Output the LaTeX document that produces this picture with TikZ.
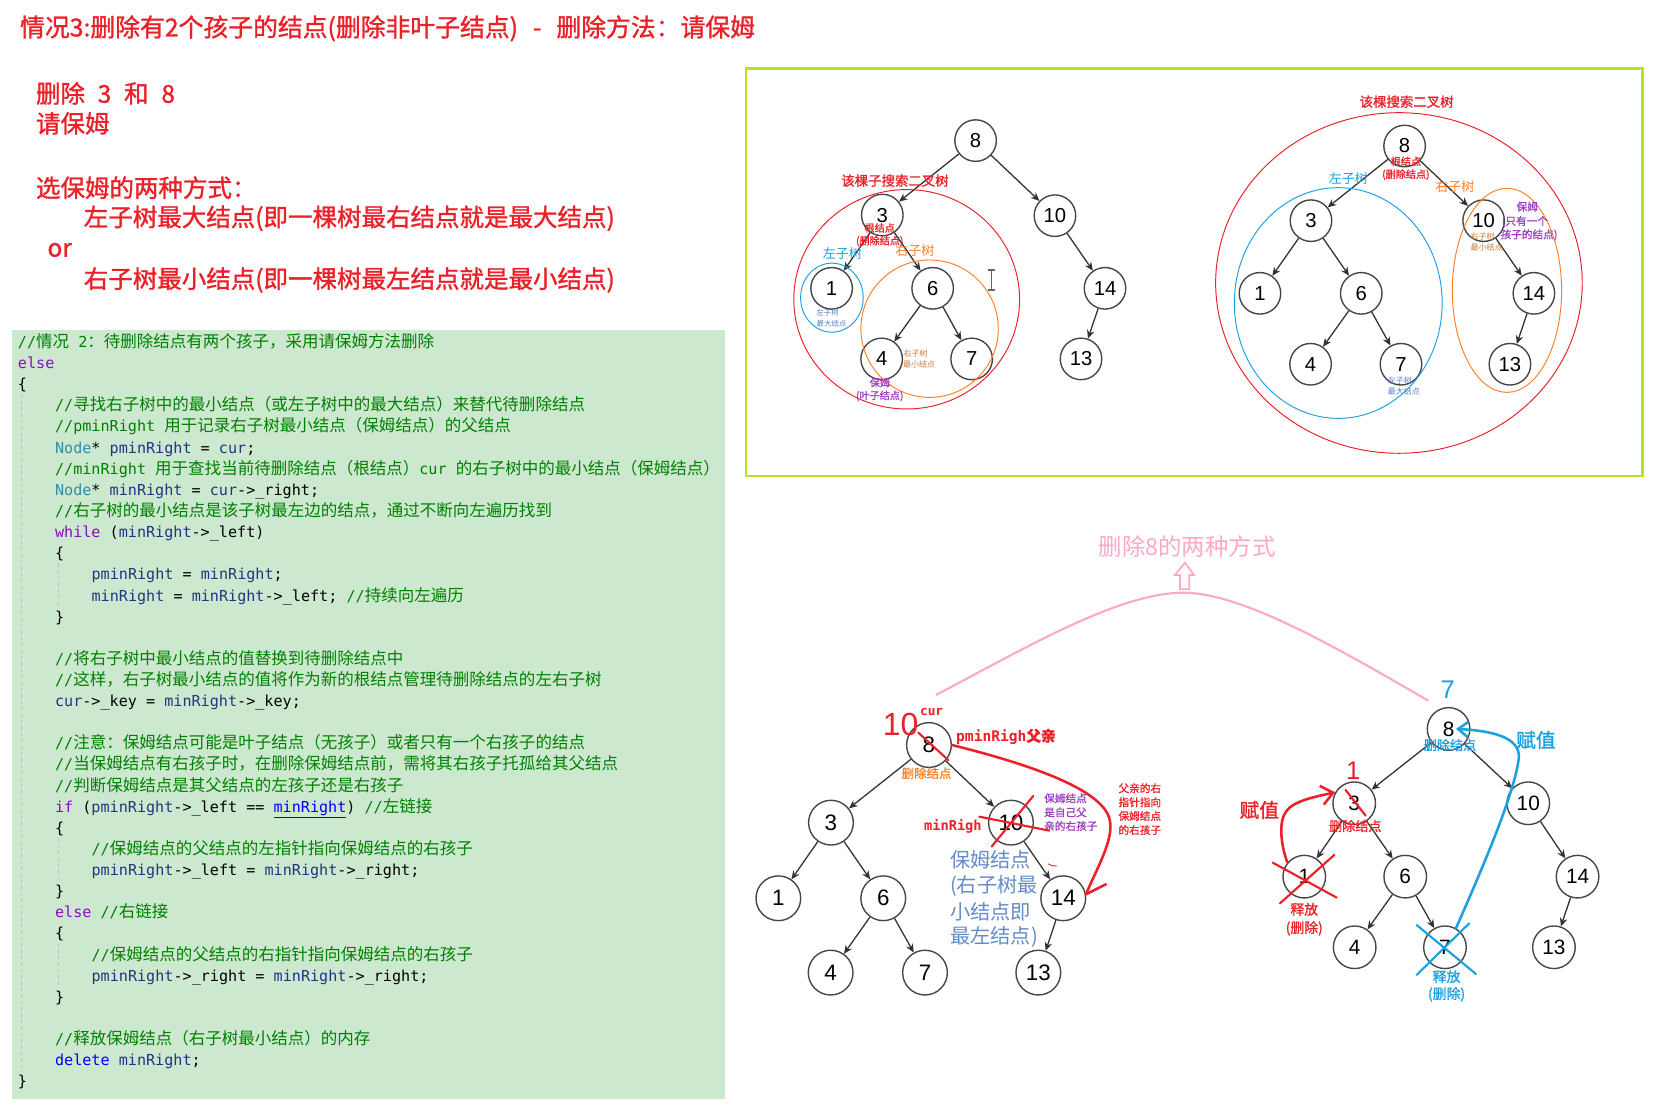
\documentclass[tikz,border=0pt]{standalone}
\usepackage{fontspec}
\setmainfont{Liberation Sans}
\newfontfamily\zh{Noto Sans CJK SC}
\newfontfamily\zhb[FakeBold=1.2]{Noto Sans CJK SC}
\newfontfamily\cmono{DejaVu Sans Mono}
\usetikzlibrary{arrows.meta}
\newcommand\fsz[1]{\fontsize{#1}{#1}\selectfont}
\newcommand\Z[1]{{\zh\fsz{15.5}#1}}
\definecolor{tred}{RGB}{236,32,40}
\definecolor{framegreen}{RGB}{181,230,29}
\definecolor{codebg}{RGB}{204,232,207}
\definecolor{cmt}{RGB}{0,128,0}
\definecolor{kw}{RGB}{143,8,196}
\definecolor{kwb}{RGB}{0,0,255}
\definecolor{typ}{RGB}{43,145,175}
\definecolor{vr}{RGB}{31,55,127}
\definecolor{ngray}{RGB}{70,70,70}
\definecolor{egray}{RGB}{50,50,50}
\definecolor{sky}{RGB}{27,161,226}
\definecolor{org}{RGB}{255,127,39}
\definecolor{purp}{RGB}{160,64,192}
\definecolor{tinyblue}{RGB}{90,130,200}
\definecolor{tinybrown}{RGB}{200,120,60}
\definecolor{steel}{RGB}{100,140,200}
\definecolor{pinkc}{RGB}{255,168,200}
\begin{document}
\begin{tikzpicture}[x=1pt,y=-1pt,
  code/.style={anchor=base west, inner sep=0pt, font=\cmono\fsz{14.2}, text=black},
  tn/.style={circle, draw=ngray, line width=1.3pt, minimum size=39pt, inner sep=0pt, font=\fsz{19}},
  bn/.style={tn, minimum size=42pt, font=\fsz{21}},
  rn/.style={tn, minimum size=40pt, font=\fsz{19.5}},
  tedge/.style={draw=egray, line width=1.2pt, -{Stealth[length=8pt,width=7pt]}},
  lbl/.style={inner sep=0pt},
  redpen/.style={draw=tred, line width=2.4pt, line cap=round},
  bluepen/.style={draw=sky, line width=2.4pt, line cap=round},
  leftred/.style={anchor=west, inner sep=0pt, font=\zhb\fsz{23}, text=tred}
]
\useasboundingbox (0,0) rectangle (1568,1046);
\fill[white] (0,0) rectangle (1568,1046);

% ---------- top-left red text ----------
\node[leftred, font=\zhb\fsz{23.3}] (title) at (18.7,26.6) {情况3:删除有2个孩子的结点(删除非叶子结点)\hspace{14pt}-\hspace{14pt}删除方法：请保姆};
\node[leftred] (t1) at (33.6,87.6) {删除\hspace{12pt}3\hspace{12pt}和\hspace{12pt}8};
\node[leftred] (t2) at (33.6,115.8) {请保姆};
\node[leftred] (t3) at (33.6,176.2) {选保姆的两种方式：};
\node[leftred] (t4) at (78.5,205) {左子树最大结点(即一棵树最右结点就是最大结点)};
\node[leftred] (t5) at (44.4,234.7) {or};
\node[leftred] (t6) at (78.5,262.9) {右子树最小结点(即一棵树最左结点就是最小结点)};

% ---------- code block ----------
\fill[codebg] (11,310) rectangle (681,1032);
\draw[black!25, dashed, line width=0.8pt] (19.8,370) -- (19.8,1006);
\draw[black!25, dashed, line width=0.8pt] (55,529) -- (55,570);
\draw[black!25, dashed, line width=0.8pt] (55,787) -- (55,828);
\draw[black!25, dashed, line width=0.8pt] (55,886) -- (55,927);

\node[code,text=cmt] (c0) at (16.7,326.3) {//\Z{情况} 2\Z{：待删除结点有两个孩子，采用请保姆方法删除}};
\node[code,text=kw] (c1) at (16.7,346.1) {else};
\node[code] (c2) at (16.7,366.0) {\{};
\node[code,text=cmt] (c3) at (51.5,385.8) {//\Z{寻找右子树中的最小结点（或左子树中的最大结点）来替代待删除结点}};
\node[code,text=cmt] (c4) at (51.5,405.6) {//pminRight \Z{用于记录右子树最小结点（保姆结点）的父结点}};
\node[code] (c5) at (51.5,425.5) {\textcolor{typ}{Node}* \textcolor{vr}{pminRight} = \textcolor{vr}{cur};};
\node[code,text=cmt] (c6) at (51.5,445.3) {//minRight \Z{用于查找当前待删除结点（根结点）}cur \Z{的右子树中的最小结点（保姆结点）}};
\node[code] (c7) at (51.5,465.1) {\textcolor{typ}{Node}* \textcolor{vr}{minRight} = \textcolor{vr}{cur}->\_right;};
\node[code,text=cmt] (c8) at (51.5,484.9) {//\Z{右子树的最小结点是该子树最左边的结点，通过不断向左遍历找到}};
\node[code] (c9) at (51.5,504.8) {\textcolor{kw}{while} (\textcolor{vr}{minRight}->\_left)};
\node[code] (c10) at (51.5,524.6) {\{};
\node[code] (c11) at (85.8,544.4) {\textcolor{vr}{pminRight} = \textcolor{vr}{minRight};};
\node[code] (c12) at (85.8,564.3) {\textcolor{vr}{minRight} = \textcolor{vr}{minRight}->\_left; \textcolor{cmt}{//\Z{持续向左遍历}}};
\node[code] (c13) at (51.5,584.1) {\}};
\node[code,text=cmt] (c15) at (51.5,623.8) {//\Z{将右子树中最小结点的值替换到待删除结点中}};
\node[code,text=cmt] (c16) at (51.5,643.6) {//\Z{这样，右子树最小结点的值将作为新的根结点管理待删除结点的左右子树}};
\node[code] (c17) at (51.5,663.4) {\textcolor{vr}{cur}->\_key = \textcolor{vr}{minRight}->\_key;};
\node[code,text=cmt] (c19) at (51.5,703.1) {//\Z{注意：保姆结点可能是叶子结点（无孩子）或者只有一个右孩子的结点}};
\node[code,text=cmt] (c20) at (51.5,722.9) {//\Z{当保姆结点有右孩子时，在删除保姆结点前，需将其右孩子托孤给其父结点}};
\node[code,text=cmt] (c21) at (51.5,742.7) {//\Z{判断保姆结点是其父结点的左孩子还是右孩子}};
\node[code] (c22) at (51.5,762.6) {\textcolor{kw}{if} (\textcolor{vr}{pminRight}->\_left == \textcolor{kwb}{\underline{minRight}}) \textcolor{cmt}{//\Z{左链接}}};
\node[code] (c23) at (51.5,782.4) {\{};
\node[code,text=cmt] (c24) at (85.8,802.2) {//\Z{保姆结点的父结点的左指针指向保姆结点的右孩子}};
\node[code] (c25) at (85.8,822.1) {\textcolor{vr}{pminRight}->\_left = \textcolor{vr}{minRight}->\_right;};
\node[code] (c26) at (51.5,841.9) {\}};
\node[code] (c27) at (51.5,861.7) {\textcolor{kw}{else} \textcolor{cmt}{//\Z{右链接}}};
\node[code] (c28) at (51.5,881.5) {\{};
\node[code,text=cmt] (c29) at (85.8,901.4) {//\Z{保姆结点的父结点的右指针指向保姆结点的右孩子}};
\node[code] (c30) at (85.8,921.2) {\textcolor{vr}{pminRight}->\_right = \textcolor{vr}{minRight}->\_right;};
\node[code] (c31) at (51.5,941.0) {\}};
\node[code,text=cmt] (c33) at (51.5,980.7) {//\Z{释放保姆结点（右子树最小结点）的内存}};
\node[code] (c34) at (51.5,1000.5) {\textcolor{kwb}{delete} \textcolor{vr}{minRight};};
\node[code] (c35) at (16.7,1020.4) {\}};

% ---------- green frame ----------
\draw[framegreen, line width=2.6pt] (700.4,64.2) rectangle (1542.3,446.9);

% ---------- top-left tree ----------
\node[tn] (tl8) at (916,132) {8};
\node[tn] (tl3) at (828.4,201.9) {3};
\node[tn] (tl10) at (990.5,202.5) {10};
\node[tn] (tl1) at (780.8,270.7) {1};
\node[tn] (tl6) at (875.7,270.7) {6};
\node[tn] (tl14) at (1037.5,270.7) {14};
\node[tn] (tl4) at (827.8,337) {4};
\node[tn] (tl7) at (912.3,337) {7};
\node[tn] (tl13) at (1015,337) {13};
\foreach \p/\c in {8/3,8/10,3/1,3/6,6/4,6/7,10/14,14/13} \draw[tedge] (tl\p) -- (tl\c);
\draw[tred, line width=0.9pt] (851.3,281) ellipse [x radius=106, y radius=103];
\draw[sky, line width=0.9pt] (781.1,279.5) ellipse [x radius=29.4, y radius=32.4];
\draw[org, line width=0.9pt] (872.8,308.6) ellipse [x radius=64.5, y radius=64.5];
\node[lbl, font=\zhb\fsz{12.6}, text=tred] (tlA) at (840.3,169.6) {该棵子搜索二叉树};
\node[lbl, font=\zhb\fsz{9.5}, text=tred] (tlB) at (826,214) {根结点};
\node[lbl, font=\zhb\fsz{9.5}, text=tred] (tlC) at (826,226.5) {(删除结点)};
\node[lbl, font=\zh\fsz{12.2}, text=sky] (tlD) at (790.8,238.5) {左子树};
\node[lbl, font=\zh\fsz{12.2}, text=org] (tlE) at (859,235.4) {右子树};
\node[lbl, font=\zh\fsz{7}, text=tinyblue] (tlF) at (777,293.2) {左子树};
\node[lbl, font=\zh\fsz{7}, text=tinyblue] (tlG) at (780.8,303.6) {最大结点};
\node[lbl, font=\zh\fsz{7.5}, text=tinybrown] (tlH) at (859.7,331.7) {右子树};
\node[lbl, font=\zh\fsz{7.5}, text=tinybrown] (tlI) at (863,342) {最小结点};
\node[lbl, font=\zhb\fsz{9.5}, text=purp] (tlJ) at (826.2,359.3) {保姆};
\node[lbl, font=\zhb\fsz{9.5}, text=purp] (tlK) at (826,371.8) {(叶子结点)};
% text cursor
\draw[black!60, line width=1pt] (931,253.5) -- (931,272.3) (927.5,253.5) -- (934.5,253.5) (927.5,272.3) -- (934.5,272.3);

% ---------- top-right tree ----------
\node[tn] (tr8) at (1318.8,137.1) {8};
\node[tn] (tr3) at (1230.9,207.2) {3};
\node[tn] (tr10) at (1393,207.2) {10};
\node[tn] (tr1) at (1183,275.4) {1};
\node[tn] (tr6) at (1278.1,275.4) {6};
\node[tn] (tr14) at (1440.2,275.4) {14};
\node[tn] (tr4) at (1230.5,342) {4};
\node[tn] (tr7) at (1315.4,342) {7};
\node[tn] (tr13) at (1417.7,342) {13};
\foreach \p/\c in {8/3,8/10,3/1,3/6,6/4,6/7,10/14,14/13} \draw[tedge] (tr\p) -- (tr\c);
\draw[tred, line width=0.9pt] (1313.5,265.7) ellipse [x radius=172.1, y radius=159.9];
\draw[sky, line width=0.9pt] (1256.5,284.5) ellipse [x radius=97.6, y radius=108.3];
\draw[org, line width=0.9pt] (1414.9,272.6) ellipse [x radius=51.3, y radius=95.8];
\node[lbl, font=\zhb\fsz{12.6}, text=tred] (trA) at (1320.7,95.5) {该棵搜索二叉树};
\node[lbl, font=\zhb\fsz{9.5}, text=tred] (trB) at (1320,151.5) {根结点};
\node[lbl, font=\zhb\fsz{9.5}, text=tred] (trC) at (1320,164) {(删除结点)};
\node[lbl, font=\zh\fsz{12.2}, text=sky] (trD) at (1265.9,167.4) {左子树};
\node[lbl, font=\zh\fsz{12.2}, text=org] (trE) at (1366,175.3) {右子树};
\node[lbl, font=\zhb\fsz{10}, text=purp] (trF) at (1434,194) {保姆};
\node[lbl, font=\zhb\fsz{10}, text=purp] (trG) at (1431.8,208.1) {(只有一个};
\node[lbl, font=\zhb\fsz{10}, text=purp] (trH) at (1435.6,220.6) {孩子的结点)};
\node[lbl, font=\zh\fsz{7.5}, text=tinybrown] (trI) at (1392,221.6) {右子树};
\node[lbl, font=\zh\fsz{7.5}, text=tinybrown] (trJ) at (1395.8,232.2) {最小结点};
\node[lbl, font=\zh\fsz{7.5}, text=tinyblue] (trK) at (1314.4,356.8) {左子树};
\node[lbl, font=\zh\fsz{7.5}, text=tinyblue] (trL) at (1318.2,367.1) {最大结点};

% ---------- pink title & curve ----------
\node[lbl, font=\zh\fsz{22}, text=pinkc] (pinkT) at (1114.6,513.3) {删除8的两种方式};
\draw[pinkc, line width=1.6pt, line join=miter] (1112.6,528.3) -- (1121,539.8) -- (1116.6,539.8) -- (1116.6,553.3) -- (1107.9,553.3) -- (1107.9,539.8) -- (1103.2,539.8) -- cycle;
\coordinate (pkL) at (878.8,652.5);
\coordinate (pkR) at (1341,657.9);
\draw[pinkc, line width=2pt] (pkL) .. controls (960,610) and (1050,556.5) .. (1111,556.5) .. controls (1165,556.5) and (1250,605) .. (pkR);

% ---------- bottom-left tree ----------
\node[bn] (bl8) at (872.2,699.5) {8};
\node[bn] (bl3) at (780.2,772.4) {3};
\node[bn] (bl10) at (949.2,772.4) {10};
\node[bn] (bl1) at (730.8,843.4) {1};
\node[bn] (bl6) at (829.3,843.4) {6};
\node[bn] (bl14) at (998.3,843.4) {14};
\node[bn] (bl4) at (779.9,913.2) {4};
\node[bn] (bl7) at (868.5,913.2) {7};
\node[bn] (bl13) at (974.9,913.2) {13};
\foreach \p/\c in {8/3,8/10,3/1,3/6,6/4,6/7,10/14,14/13} \draw[tedge] (bl\p) -- (bl\c);
\node[lbl, font=\fsz{30}, text=tred] (blten) at (845.6,680.7) {10};
\node[lbl, font=\cmono\bfseries\fsz{12}, text=tred] (blcur) at (874.7,668.2) {cur};
\node[lbl, anchor=west, font=\cmono\bfseries\fsz{13.7}, text=tred] (blpm) at (897.6,691.6) {pminRigh{\zhb 父亲}};
\node[lbl, font=\zhb\fsz{11.7}, text=org] (bldel) at (870,726) {删除结点};
\node[lbl, font=\cmono\bfseries\fsz{12.8}, text=tred] (blmin) at (894.7,775.5) {minRigh};
\node[lbl, anchor=west, font=\zhb\fsz{10}, text=purp] (blp1) at (980.2,749.5) {保姆结点};
\node[lbl, anchor=west, font=\zhb\fsz{10}, text=purp] (blp2) at (980.2,762.7) {是自己父};
\node[lbl, anchor=west, font=\zhb\fsz{10}, text=purp] (blp3) at (980.2,775.5) {亲的右孩子};
\node[lbl, anchor=west, font=\zhb\fsz{10}, text=tred] (blr1) at (1050,740.1) {父亲的右};
\node[lbl, anchor=west, font=\zhb\fsz{10}, text=tred] (blr2) at (1050,753.3) {指针指向};
\node[lbl, anchor=west, font=\zhb\fsz{10}, text=tred] (blr3) at (1050,766.1) {保姆结点};
\node[lbl, anchor=west, font=\zhb\fsz{10}, text=tred] (blr4) at (1050,779.3) {的右孩子};
\node[lbl, anchor=west, font=\zh\fsz{19}, text=steel] (bls1) at (891.9,807.4) {保姆结点};
\node[lbl, anchor=west, font=\zh\fsz{19}, text=steel] (bls2) at (891.9,831.9) {(右子树最};
\node[lbl, anchor=west, font=\zh\fsz{19}, text=steel] (bls3) at (891.9,856) {小结点即};
\node[lbl, anchor=west, font=\zh\fsz{19}, text=steel] (bls4) at (891.9,879.4) {最左结点)};
% red marks
\draw[redpen, line width=2pt] (862.2,687.9) -- (890.3,713.6);
\draw[redpen, line width=2pt] (970.2,747.3) -- (931,794.9);
\draw[redpen, line width=2pt] (919.5,766.8) -- (985.2,779.9);
\draw[tred, line width=0.8pt] (984,811) -- (988,813) -- (992,813);
\draw[redpen] (bl8.east) .. controls (960,716) and (1036,740) .. (1042,770) .. controls (1046,788) and (1030,815) .. (bl14.10);
\draw[redpen] (bl14.10) -- (1038.4,830.3);

% ---------- bottom-right tree ----------
\node[rn] (br8) at (1360.1,684.4) {8};
\node[rn] (br3) at (1271.5,754.2) {3};
\node[rn] (br10) at (1434.9,754.2) {10};
\node[rn] (br1) at (1224.6,823.1) {1};
\node[rn] (br6) at (1319.4,823.1) {6};
\node[rn] (br14) at (1481.2,823.1) {14};
\node[rn] (br4) at (1271.9,889.4) {4};
\node[rn] (br7) at (1356.7,889.4) {7};
\node[rn] (br13) at (1459,889.4) {13};
\foreach \p/\c in {8/3,8/10,3/1,3/6,6/4,6/7,10/14,14/13} \draw[tedge] (br\p) -- (br\c);
\node[lbl, font=\fsz{24}, text=sky] (brseven) at (1359.2,647.8) {7};
\node[lbl, font=\fsz{24}, text=tred] (brone) at (1270.6,723.9) {1};
\node[lbl, font=\zhb\fsz{18.5}, text=tred] (brfz1) at (1182.4,760.5) {赋值};
\node[lbl, font=\zhb\fsz{18.5}, text=sky] (brfz2) at (1442.1,694.8) {赋值};
\node[lbl, font=\zhb\fsz{12.3}, text=sky] (brdel8) at (1361.4,699.5) {删除结点};
\node[lbl, font=\zhb\fsz{12.3}, text=tred] (brdel3) at (1272.5,775.5) {删除结点};
\node[lbl, font=\zhb\fsz{13}, text=tred] (brsf1) at (1224.6,853.8) {释放};
\node[lbl, font=\zhb\fsz{13}, text=tred] (brsf1b) at (1224.6,871.6) {(删除)};
\node[lbl, font=\zhb\fsz{13}, text=sky] (brsf2) at (1358.2,917) {释放};
\node[lbl, font=\zhb\fsz{13}, text=sky] (brsf2b) at (1358.2,933.6) {(删除)};
% crosses
\draw[redpen, line width=2pt] (1263.4,741.7) -- (1282.2,765.8);
\draw[redpen, line width=2pt] (1194.9,809.9) -- (1255,842.8);
\draw[redpen, line width=2pt] (1252.8,802.7) -- (1201.8,848.1);
\draw[bluepen, line width=2pt] (1330.1,868.5) -- (1385.8,914.5);
\draw[bluepen, line width=2pt] (1379.5,866.9) -- (1330.1,915.4);
% assignment arrows
\draw[redpen, -{Straight Barb[length=11pt,width=18pt]}] (br1.140) .. controls (1203,795) and (1200,772) .. (1207.4,762.1) .. controls (1214,752) and (1235,748) .. (br3.150);
\draw[bluepen, -{Straight Barb[length=9pt,width=14pt]}] (br7.60) .. controls (1392,815) and (1422,745) .. (1426,712) .. controls (1428,692) and (1400,686) .. ([xshift=7pt]br8.center);
\end{tikzpicture}
\end{document}
